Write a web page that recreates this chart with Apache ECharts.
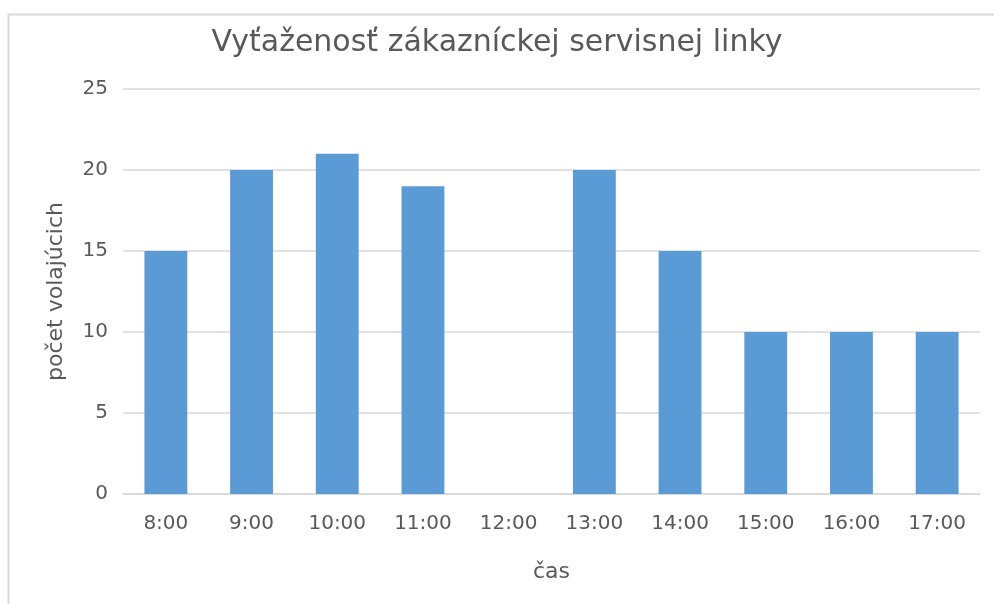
<!DOCTYPE html>
<html>
<head>
<meta charset="utf-8">
<script src="https://cdn.jsdelivr.net/npm/echarts@6/dist/echarts.min.js"></script>
<style>html,body{margin:0;padding:0;background:#fff}#c{width:994px;height:604px}</style>
</head>
<body>
<div id="c"></div>
<script>
const titleText = 'Vyťaženosť zákazníckej servisnej linky';
const categories = ['8:00','9:00','10:00','11:00','12:00','13:00','14:00','15:00','16:00','17:00'];
const calls = [15, 20, 21, 19, 0, 20, 15, 10, 10, 10];
const yTicks = { min: 0, max: 25, interval: 5 };
const xName = 'čas';
const yName = 'počet volajúcich';

const font = '"DejaVu Sans", sans-serif';
const chart = echarts.init(document.getElementById('c'), null, { renderer: 'canvas' });
chart.setOption({
  animation: false,
  backgroundColor: '#fff',
  graphic: [{
    type: 'rect', shape: { x: 8.5, y: 14.5, width: 1100, height: 800 },
    style: { fill: 'none', stroke: '#D9D9D9', lineWidth: 2 }, z: -1
  }],
  title: {
    text: titleText, left: 'center', top: 23,
    textStyle: { fontFamily: font, fontSize: 30, fontWeight: 'normal', color: '#595959' }
  },
  grid: { left: 123, right: 14, top: 89, bottom: 110, containLabel: false },
  xAxis: {
    type: 'category', data: categories,
    name: xName, nameLocation: 'middle', nameGap: 67,
    nameTextStyle: { fontFamily: font, fontSize: 22, color: '#595959' },
    axisLine: { lineStyle: { color: '#D9D9D9', width: 1.5 } },
    axisTick: { show: false },
    axisLabel: { fontFamily: font, fontSize: 20, color: '#595959', margin: 20 }
  },
  yAxis: {
    type: 'value', min: yTicks.min, max: yTicks.max, interval: yTicks.interval,
    name: yName, nameLocation: 'middle', nameGap: 56, nameRotate: 90,
    nameTextStyle: { fontFamily: font, fontSize: 22, color: '#595959' },
    axisLine: { show: false }, axisTick: { show: false },
    splitLine: { lineStyle: { color: '#D9D9D9', width: 1.5 } },
    axisLabel: { fontFamily: font, fontSize: 20, color: '#595959', margin: 15 }
  },
  series: [{
    type: 'bar', data: calls, barCategoryGap: '50%',
    itemStyle: { color: '#5B9BD5' }
  }]
});
</script>
</body>
</html>
